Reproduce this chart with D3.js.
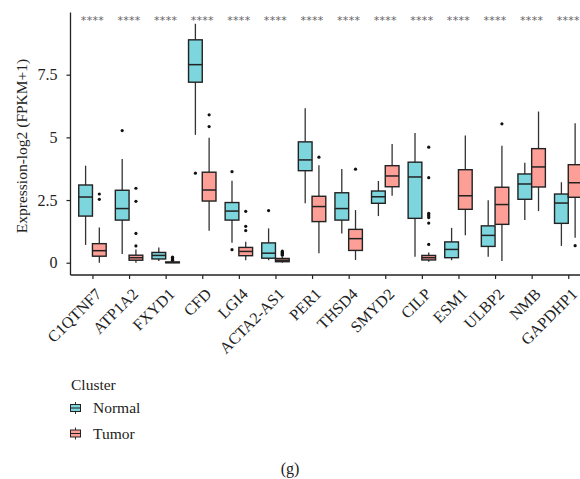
<!DOCTYPE html>
<html><head><meta charset="utf-8">
<script src="https://cdn.jsdelivr.net/npm/d3@7"></script>
<style>body{margin:0;background:#fff}svg{display:block}</style>
</head><body>
<svg id="c" width="580" height="479"></svg>
<script>
const genes = ["C1QTNF7","ATP1A2","FXYD1","CFD","LGI4","ACTA2-AS1","PER1","THSD4","SMYD2","CILP","ESM1","ULBP2","NMB","GAPDHP1"];
const series = ["Normal","Tumor"];
const seriesColors = ["#7dd5dd","#fe9f97"];
// [lower whisker, Q1, median, Q3, upper whisker]
const normalStats = [
  [0.71,1.86,2.62,3.10,3.87],
  [0.35,1.70,2.16,2.89,4.14],
  [0.07,0.15,0.29,0.41,0.61],
  [5.10,7.20,7.90,8.89,9.53],
  [0.80,1.70,2.06,2.40,3.27],
  [0.10,0.18,0.38,0.79,1.37],
  [2.37,3.67,4.10,4.82,6.16],
  [1.17,1.70,2.16,2.79,3.74],
  [1.86,2.37,2.63,2.86,3.26],
  [0.24,1.77,3.42,4.01,5.17],
  [0.10,0.20,0.53,0.83,1.39],
  [0.24,0.65,1.09,1.47,2.49],
  [1.70,2.53,3.14,3.54,3.99],
  [0.67,1.57,2.38,2.74,3.21]
];
const normalOutliers = [
  [],[5.27],[],[3.57],[3.63,0.52],[2.08],[],[],[],[],[],[],[],[]
];
const tumorStats = [
  [0.00,0.26,0.48,0.76,1.40],
  [0.00,0.10,0.20,0.30,0.53],
  [0.00,0.00,0.01,0.03,0.06],
  [1.27,2.46,2.90,3.61,4.98],
  [0.10,0.28,0.45,0.61,0.84],
  [0.00,0.04,0.10,0.17,0.24],
  [0.38,1.64,2.24,2.65,3.89],
  [0.11,0.49,0.96,1.33,2.10],
  [2.67,3.03,3.46,3.87,4.74],
  [0.04,0.11,0.20,0.29,0.41],
  [1.10,2.13,2.67,3.71,5.07],
  [0.07,1.53,2.32,3.01,4.67],
  [2.06,3.02,3.82,4.55,6.03],
  [1.00,2.61,3.19,3.91,5.56]
];
const tumorOutliers = [
  [2.74,2.53],
  [2.97,2.45,1.17,0.67],
  [0.10,0.13,0.16,0.19,0.22],
  [5.90,5.43],
  [2.05,1.45,1.28],
  [0.30,0.34,0.38,0.42,0.46],
  [4.21],
  [3.73],
  [],
  [4.61,3.39,1.97,1.91,1.86,1.80,1.58,0.73],
  [],
  [5.54],
  [],
  [0.68]
];
const signif = genes.map(()=> "****");
const yTicks = [0, 2.5, 5, 7.5];
const yTickLabels = ["0","2.5","5","7.5"];

const svg = d3.select("#c");
const font = "'Liberation Serif','DejaVu Serif',serif";
const padL = 70.5, padB = 275, padT = 12.5;
const step = 36.6;
const xs = d3.scalePoint().domain(genes).range([padL + 0.6*step, padL + 0.6*step + step*(genes.length-1)]);
const y = d3.scaleLinear().domain([-0.49, 9.98]).range([padB, padT]);
const boxW = 0.375*step;
const dodge = d3.scaleBand().domain(series).range([-0.375*step, 0.375*step]);

const g = svg.append("g");
const allStats = [normalStats, tumorStats];
const allOut = [normalOutliers, tumorOutliers];

genes.forEach((gene, i) => {
  series.forEach((s, k) => {
    const st = allStats[k][i];
    const cx = xs(gene) + dodge(s) + dodge.bandwidth()/2;
    const x0 = cx - boxW/2;
    const grp = g.append("g");
    grp.append("line").attr("x1",cx).attr("x2",cx).attr("y1",y(st[4])).attr("y2",y(st[3]))
      .attr("stroke","#333").attr("stroke-width",1.3);
    grp.append("line").attr("x1",cx).attr("x2",cx).attr("y1",y(st[1])).attr("y2",y(st[0]))
      .attr("stroke","#333").attr("stroke-width",1.3);
    grp.append("rect").attr("x",x0).attr("width",boxW)
      .attr("y",y(st[3])).attr("height",Math.max(0.8, y(st[1])-y(st[3])))
      .attr("fill",seriesColors[k]).attr("stroke","#222").attr("stroke-width",1.4);
    grp.append("line").attr("x1",x0).attr("x2",x0+boxW).attr("y1",y(st[2])).attr("y2",y(st[2]))
      .attr("stroke","#222").attr("stroke-width",1.5);
    allOut[k][i].forEach(v => {
      grp.append("circle").attr("cx",cx).attr("cy",y(v)).attr("r",1.6).attr("fill","#111");
    });
  });
  g.append("text").attr("x",xs(gene)).attr("y",y(9.66)).attr("text-anchor","middle")
    .attr("dominant-baseline","middle")
    .attr("font-family","'DejaVu Sans',sans-serif").attr("font-size",11).attr("fill","#666")
    .attr("letter-spacing","0.3").text(signif[i]);
});

// axes
const yAxis = d3.axisLeft(y).tickValues(yTicks).tickFormat((d,i)=>yTickLabels[i]).tickSize(4).tickPadding(9);
const ya = svg.append("g").attr("transform",`translate(${padL},0)`).call(yAxis);
ya.select(".domain").attr("d",`M0,${padT}V${padB}`).attr("stroke","#222").attr("stroke-width",1.3);
ya.selectAll(".tick line").attr("stroke","#222").attr("stroke-width",1.2);
ya.selectAll("text").attr("font-family",font).attr("font-size",16).attr("fill","#222");

const xAxis = d3.axisBottom(xs).tickSize(4).tickPadding(4);
const xa = svg.append("g").attr("transform",`translate(0,${padB})`).call(xAxis);
xa.select(".domain").attr("d",`M${padL},0H590`).attr("stroke","#222").attr("stroke-width",1.3);
xa.selectAll(".tick line").attr("stroke","#222").attr("stroke-width",1.2);
xa.selectAll("text").attr("font-family",font).attr("font-size",16).attr("fill","#222")
  .attr("text-anchor","end").attr("dy","0.3em")
  .attr("transform","translate(0.5,11) rotate(-45)");

svg.append("text").attr("transform","translate(27,146) rotate(-90)").attr("text-anchor","middle")
  .attr("font-family",font).attr("font-size",15.5).attr("fill","#222").text("Expression-log2 (FPKM+1)");

// legend
const lg = svg.append("g");
lg.append("text").attr("x",71).attr("y",390).attr("font-family",font).attr("font-size",15.5).attr("fill","#222").text("Cluster");
series.forEach((s,k)=>{
  const yy = 408 + k*25.5;
  lg.append("line").attr("x1",75.5).attr("x2",75.5).attr("y1",yy-6).attr("y2",yy+6).attr("stroke","#333").attr("stroke-width",1);
  lg.append("rect").attr("x",70.5).attr("y",yy-3.5).attr("width",10).attr("height",7)
    .attr("fill",seriesColors[k]).attr("stroke","#222").attr("stroke-width",1);
  lg.append("line").attr("x1",70.5).attr("x2",80.5).attr("y1",yy).attr("y2",yy).attr("stroke","#222").attr("stroke-width",1);
  lg.append("text").attr("x",93).attr("y",yy+5).attr("font-family",font).attr("font-size",15.5).attr("fill","#222").text(s);
});

svg.append("text").attr("x",290).attr("y",474).attr("text-anchor","middle")
  .attr("font-family",font).attr("font-size",16).attr("fill","#222").text("(g)");
</script>
</body></html>
